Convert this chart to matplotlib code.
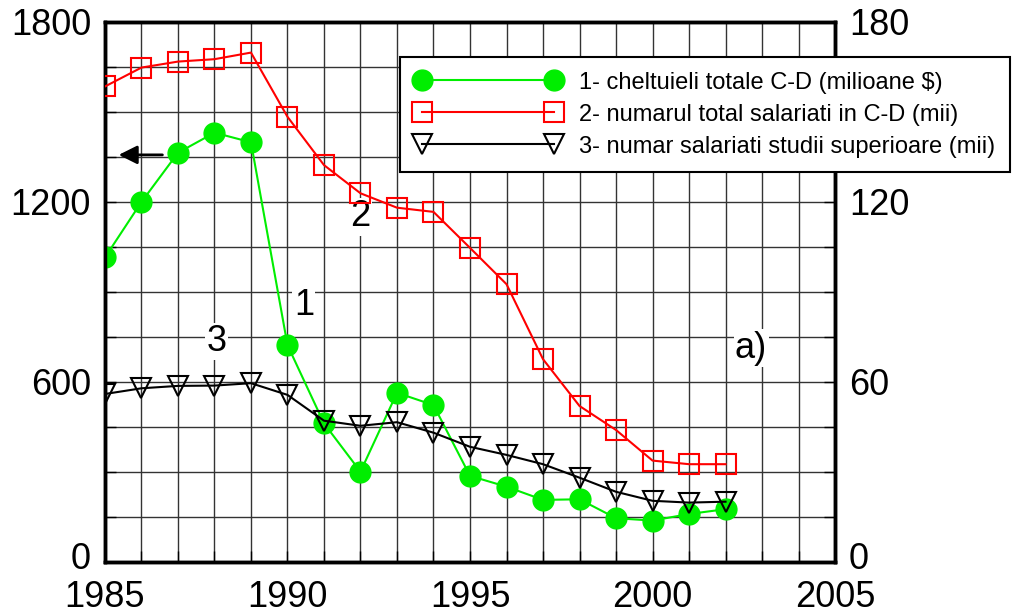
import numpy as np
import matplotlib
matplotlib.use("Agg")
import matplotlib.pyplot as plt
import matplotlib.transforms as mtransforms
from matplotlib.ticker import MultipleLocator

plt.rcParams['font.family'] = ['Liberation Sans', 'DejaVu Sans']

years = list(range(1985, 2003))
# 1 - cheltuieli totale C-D (milioane $), left axis
cheltuieli = [1015, 1200, 1364, 1431, 1399, 723, 462, 301, 564, 523,
              287, 251, 207, 209, 146, 138, 160, 176]
# 2 - numarul total salariati in C-D (mii), right axis
salariati = [158.5, 164.8, 166.8, 167.6, 169.8, 148.4, 132.3, 122.9, 118.1, 116.7,
             104.7, 92.6, 67.6, 52.0, 44.0, 33.8, 32.6, 32.6]
# 3 - numar salariati studii superioare (mii), right axis
studii_sup = [56.0, 57.9, 58.7, 58.8, 59.6, 55.7, 47.1, 45.4, 46.6, 43.1,
              38.4, 35.7, 32.6, 28.1, 23.4, 20.4, 19.8, 20.1]

labels = ["1- cheltuieli totale C-D (milioane $)",
          "2- numarul total salariati in C-D (mii)",
          "3- numar salariati studii superioare (mii)"]

fig = plt.figure(figsize=(10.16, 6.14), dpi=100)
ax = fig.add_axes([0.1033, 0.0847, 0.7186, 0.8795])
ax2 = ax.twinx()

ax.set_xlim(1985, 2005)
ax.set_ylim(0, 1800)
ax2.set_ylim(0, 180)

ax.xaxis.set_major_locator(MultipleLocator(5))
ax.xaxis.set_minor_locator(MultipleLocator(1))
ax.yaxis.set_major_locator(MultipleLocator(600))
ax.yaxis.set_minor_locator(MultipleLocator(150))
ax2.yaxis.set_major_locator(MultipleLocator(60))
ax2.yaxis.set_minor_locator(MultipleLocator(15))

ax.grid(True, which='both', color='#333333', lw=1.0)
ax.set_axisbelow(True)

for a in (ax, ax2):
    a.tick_params(axis='both', which='both', direction='in', labelsize=26, pad=10)
    a.tick_params(which='major', length=8, width=1)
    a.tick_params(which='minor', length=8, width=1)
    for s in a.spines.values():
        s.set_linewidth(2.5)
ax.tick_params(axis='y', which='both', right=False)
ax.tick_params(axis='x', which='both', top=False, pad=13)

# nudge the two "0" labels up a little so they clear the year labels
shift = mtransforms.ScaledTranslation(0, 5 / 72, fig.dpi_scale_trans)
for a in (ax, ax2):
    for lbl in a.get_yticklabels():
        if lbl.get_text() == "0":
            lbl.set_transform(lbl.get_transform() + shift)

l1, = ax.plot(years, cheltuieli, color='#00ee00', lw=1.5, marker='o', ms=15,
              mfc='#00ee00', mec='#00ee00', zorder=3)
l2, = ax2.plot(years, salariati, color='#ff0000', lw=1.5, marker='s', ms=15,
               mfc='none', mec='#ff0000', mew=1.5, zorder=3)
l3, = ax2.plot(years, studii_sup, color='black', lw=1.5, marker='v', ms=15,
               mfc='none', mec='black', mew=1.5, zorder=4)

box = dict(facecolor='white', edgecolor='none', pad=1)
ax.text(1992.0, 1150, "2", fontsize=26, ha='center', va='center', bbox=box, zorder=2)
ax.text(1990.45, 855, "1", fontsize=26, ha='center', va='center', bbox=box, zorder=2)
ax.text(1988.05, 735, "3", fontsize=26, ha='center', va='center', bbox=box, zorder=2)
ax.text(2002.7, 713, "a)", fontsize=26, ha='center', va='center', bbox=box, zorder=2)

ax.annotate("", xy=(1985.3, 1357), xytext=(1986.65, 1357),
            arrowprops=dict(arrowstyle='-|>', color='black', lw=2,
                            mutation_scale=28), zorder=5)

leg = ax2.legend([l1, l2, l3], labels, loc='upper left',
                 bbox_to_anchor=(0.394, 0.907), bbox_transform=fig.transFigure,
                 fontsize=17, handlelength=6.2, numpoints=2, fancybox=False,
                 framealpha=1, edgecolor='black', labelspacing=0.42,
                 borderpad=0.62, handletextpad=0.75, borderaxespad=0)
leg.get_frame().set_linewidth(1.5)

fig.savefig("out.png", dpi=100)
